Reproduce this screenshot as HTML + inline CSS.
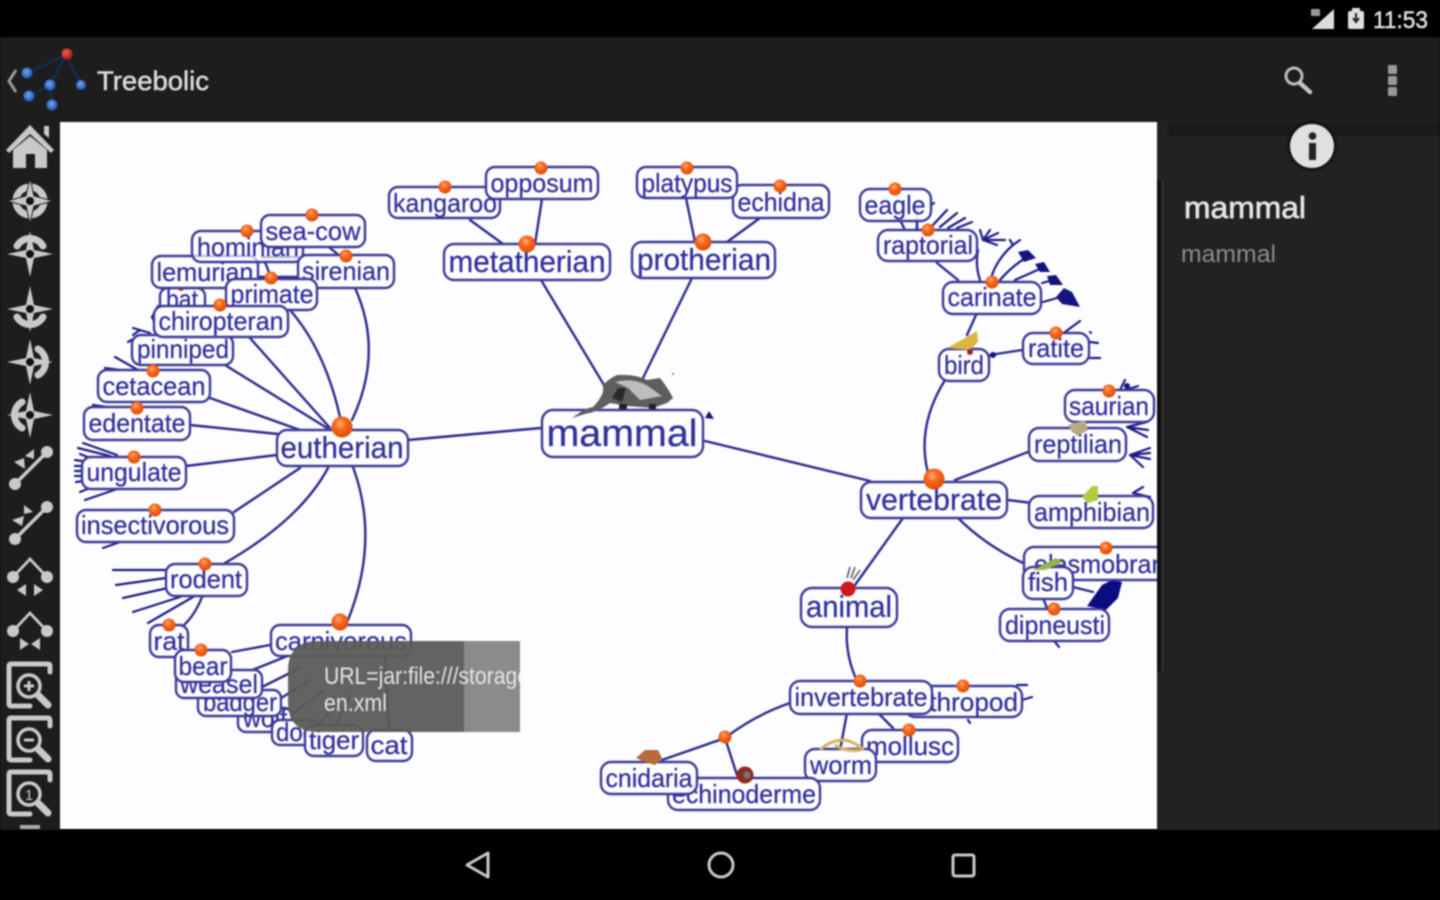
<!DOCTYPE html>
<html><head><meta charset="utf-8"><style>
html,body{margin:0;padding:0;background:#000;width:1440px;height:900px;overflow:hidden}
svg{display:block;filter:blur(.9px)}
text{font-family:"Liberation Sans",sans-serif}
.l rect{fill:#fdfcff;stroke:#3c3c98;stroke-width:2.4}
.l text{fill:#30309a;font-size:26px;text-anchor:middle;stroke:#30309a;stroke-width:.25}
.e{fill:none;stroke:#2b2b8e;stroke-width:2.4;stroke-linecap:round}
.f{fill:none;stroke:#1c1c88;stroke-width:2.2;stroke-linecap:round}
.i{fill:#c9c9c9}.r{fill:none;stroke:#c9c9c9;stroke-linecap:round}
</style></head><body>
<svg width="1440" height="900" viewBox="0 0 1440 900" xmlns="http://www.w3.org/2000/svg">
<defs>
<radialGradient id="b" cx=".42" cy=".35" r=".7"><stop offset="0" stop-color="#ffb27a"/><stop offset=".4" stop-color="#f9661a"/><stop offset="1" stop-color="#d84a08"/></radialGradient>
<radialGradient id="bl" cx=".45" cy=".4" r=".7"><stop offset="0" stop-color="#6fa8f0"/><stop offset="1" stop-color="#1540a0"/></radialGradient>
<radialGradient id="rd" cx=".4" cy=".35" r=".7"><stop offset="0" stop-color="#f06050"/><stop offset="1" stop-color="#b01010"/></radialGradient>
<clipPath id="cv"><rect x="60" y="122" width="1097" height="707"/></clipPath>
<clipPath id="tt"><rect x="288" y="641" width="232" height="91"/></clipPath>
</defs>
<rect width="1440" height="900" fill="#000"/>
<rect y="37" width="1440" height="85" fill="#1d1d1d"/>
<rect y="120" width="60" height="710" fill="#1d1d1d"/>
<rect x="1160" y="120" width="280" height="710" fill="#222"/>
<rect x="1168" y="122" width="272" height="14" fill="#1a1a1a"/>
<rect x="1157" y="122" width="4" height="708" fill="#222"/>
<rect x="1161" y="180" width="3" height="492" fill="#2d2d2d"/>
<rect x="1155" y="180" width="6" height="492" fill="#0e0e0e"/>
<rect x="60" y="122" width="1097" height="707" fill="#fdfcff"/>

<!-- status -->
<path d="M1312 29 L1334 9 V29Z" fill="#dcdcdc"/><path d="M1311 9h9v7h-9z" fill="#999"/>
<rect x="1348" y="11" width="16" height="18" rx="2" fill="#e0e0e0"/><rect x="1352" y="8" width="8" height="4" fill="#e0e0e0"/><path d="M1356 13v8M1353 18l3 4 3-4" stroke="#222" stroke-width="2" fill="none"/>
<text x="1373" y="28" font-size="24" fill="#e0e0e0" stroke="#e0e0e0" stroke-width=".5" textLength="55" lengthAdjust="spacingAndGlyphs">11:53</text>

<!-- action bar -->
<path d="M16 70 L9 81 L16 92" fill="none" stroke="#9a9a9a" stroke-width="3"/>
<path d="M27 73 L66 55 L81 85 M66 55 L50 85 L29 97 M50 85 L52 105" fill="none" stroke="#10305e" stroke-width="2"/>
<circle cx="67" cy="54" r="5.5" fill="url(#rd)"/><circle cx="27" cy="73" r="5.5" fill="url(#bl)"/><circle cx="50" cy="85" r="5.5" fill="url(#bl)"/><circle cx="81" cy="85" r="5" fill="url(#bl)"/><circle cx="29" cy="96" r="5.5" fill="url(#bl)"/><circle cx="52" cy="105" r="5.5" fill="url(#bl)"/>
<text x="97" y="90" font-size="27" fill="#dcdcdc" stroke="#dcdcdc" stroke-width=".5" textLength="112" lengthAdjust="spacingAndGlyphs">Treebolic</text>
<circle cx="1294" cy="76" r="8" fill="none" stroke="#bdbdbd" stroke-width="3"/><path d="M1300 83 L1310 92" stroke="#c4c4c4" stroke-width="4.5" stroke-linecap="round"/>
<rect x="1388" y="65" width="9" height="9" rx="1.5" fill="#999"/><rect x="1388" y="76" width="9" height="9" rx="1.5" fill="#999"/><rect x="1388" y="87" width="9" height="9" rx="1.5" fill="#999"/>

<!-- rail icons -->
<path class="i" d="M30 125 L54 150 L51 153 L30 134 L9 153 L6 150Z M44 126h5v12l-5-4Z"/>
<path class="i" d="M13 150 L30 136 L47 150 V168 H35 V154 H26 V168 H13Z"/>
<g><circle cx="30" cy="201" r="14" class="r" stroke-width="7"/><path class="i" d="M30 178 L34 196 L53 201 L34 206 L30 224 L26 206 L7 201 L26 196Z" stroke="#1d1d1d" stroke-width="1"/><circle cx="30" cy="201" r="4" fill="#111"/></g>
<g><path d="M17 246 A15 15 0 0 1 43 246" class="r" stroke-width="7"/><path class="i" d="M30 231 L34 250 L53 254 L34 258 L30 277 L26 258 L7 254 L26 250Z"/><circle cx="30" cy="254" r="4" fill="#111"/></g>
<g><path d="M17 317 A15 15 0 0 0 43 317" class="r" stroke-width="7"/><path class="i" d="M30 286 L34 305 L53 309 L34 313 L30 332 L26 313 L7 309 L26 305Z"/><circle cx="30" cy="309" r="4" fill="#111"/></g>
<g><path d="M38 349 A15 15 0 0 1 38 375" class="r" stroke-width="7"/><path class="i" d="M30 339 L34 358 L53 362 L34 366 L30 385 L26 366 L7 362 L26 358Z"/><circle cx="30" cy="362" r="4" fill="#111"/></g>
<g><path d="M22 402 A15 15 0 0 0 22 428" class="r" stroke-width="7"/><path class="i" d="M30 392 L34 411 L53 415 L34 419 L30 438 L26 419 L7 415 L26 411Z"/><circle cx="30" cy="415" r="4" fill="#111"/></g>
<g><path d="M15 484 L47 452" class="r" stroke-width="3.5"/><circle cx="15" cy="484" r="6" class="i"/><circle cx="47" cy="452" r="6" class="i"/><path class="i" d="M14 462 L24 458 L25 469Z M25 456 L34 449 L34 459Z"/></g>
<g><path d="M15 539 L47 507" class="r" stroke-width="3.5"/><circle cx="15" cy="539" r="6" class="i"/><circle cx="47" cy="507" r="6" class="i"/><path class="i" d="M12 520 L24 516 L22 526Z M33 512 L24 505 L24 514Z"/></g>
<g><path d="M14 576 L30 559 L46 576" class="r" stroke-width="2.8"/><circle cx="13" cy="577" r="6" class="i"/><circle cx="47" cy="577" r="6" class="i"/><path class="i" d="M17 590 L26 584 V596Z M43 590 L34 584 V596Z"/></g>
<g><path d="M14 630 L30 613 L46 630" class="r" stroke-width="2.8"/><circle cx="13" cy="631" r="6" class="i"/><circle cx="47" cy="631" r="6" class="i"/><path class="i" d="M20 638 L29 644 L20 650Z M40 638 L31 644 L40 650Z"/></g>
<g><path d="M50 672 V666 Q50 664 48 664 H11 Q9 664 9 666 V704 Q9 706 11 706 H30" class="r" stroke-width="5"/><circle cx="29" cy="686" r="11" fill="none" stroke="#c9c9c9" stroke-width="3.5"/><path d="M38 695 L48 705" class="r" stroke-width="7"/><path d="M24 686h10M29 681v10" stroke="#c9c9c9" stroke-width="3"/></g>
<g><path d="M50 726 V720 Q50 718 48 718 H11 Q9 718 9 720 V758 Q9 760 11 760 H30" class="r" stroke-width="5"/><circle cx="29" cy="740" r="11" fill="none" stroke="#c9c9c9" stroke-width="3.5"/><path d="M38 749 L48 759" class="r" stroke-width="7"/><path d="M24 740h10" stroke="#c9c9c9" stroke-width="3"/></g>
<g><path d="M50 780 V774 Q50 772 48 772 H11 Q9 772 9 774 V812 Q9 814 11 814 H30" class="r" stroke-width="5"/><circle cx="29" cy="794" r="11" fill="none" stroke="#c9c9c9" stroke-width="3.5"/><path d="M38 803 L48 813" class="r" stroke-width="7"/><text x="29" y="800" font-size="15" fill="#c9c9c9" text-anchor="middle">1</text></g>
<rect x="20" y="825" width="20" height="4" fill="#aaa"/>

<!-- canvas -->
<g clip-path="url(#cv)">
<!-- edges -->
<path class="e" d="M408 440 L541 428 M705 441 L870 481 M604 385 L541 280 M642 380 L692 278
M535 244 L542 199 M470 220 L503 244 M695 242 L686 198 M727 242 L760 218
M355 288 Q384 352 352 420 M290 310 Q325 350 340 417 M250 338 L330 428 M225 365 L327 428 M210 398 L300 430 M190 425 L278 434 M186 466 L277 455 M234 512 L300 468
M225 563 Q300 520 328 468 M348 620 Q380 540 353 467
M330 248 L340 256 M262 257 L298 257 M258 277 L298 277 M265 262 L272 280
M202 597 Q195 615 183 626
M270 645 L232 652 M290 655 L240 675 M300 668 L262 687 M310 680 L278 700 M325 690 L290 715 M340 700 L318 725 M350 695 L335 728 M385 655 L389 730
M945 380 Q914 430 930 480 M955 480 L1028 452 M1008 500 L1032 503 M958 518 Q985 545 1023 563 M903 518 L855 585
M847 627 Q845 655 857 681 M790 703 Q755 715 725 738 L662 760 M725 738 L737 775 M847 713 L840 750 M878 713 L893 728
M990 355 L1022 350 M976 315 L967 335 M937 263 L958 280 M900 220 L905 230 M917 207 V230 M978 250 Q975 265 980 280 M1073 587 L1093 592 M1043 598 L1047 608"/>
<!-- fans -->
<path class="f" d="M166 570 L113 570 M166 578 L116 585 M168 588 L123 598 M180 597 L133 612 M193 597 L148 623
M152 317 L158 306 M152 317 L156 325 M133 328 L150 333 M128 342 L135 338 M133 335 L140 330 M115 357 L138 370 M105 368 L120 370 M93 405 L107 407
M83 443 L117 455 M78 448 L110 456 M80 454 L90 458 M75 460 L82 461 M75 466 L82 466 M75 471 L82 471 M75 476 L82 476 M76 482 L84 481 M80 492 L90 488 M85 500 L123 487
M103 548 L120 542 M933 225 L947 210 M940 227 L957 213 M948 228 L965 218 M957 228 L972 222
M983 240 L980 230 M983 240 L990 230 M983 240 L998 233 M983 240 L1005 240 M983 240 L997 245
M992 275 Q998 258 1013 245 M1013 245 L1020 240 M1013 245 L1010 240 M1000 280 Q1012 266 1027 257 M1015 280 L1042 268 M1042 283 L1053 280 M1043 302 L1057 298
M1065 332 L1080 321 M1090 332 L1091 333 M1090 342 L1098 343 M1090 358 L1100 358 M931 205 L934 203
M1120 390 L1125 380 M1125 390 L1138 386 M1127 427 L1147 422 M1127 427 L1148 430 M1127 427 L1147 437 M1130 455 L1150 448 M1130 455 L1150 453 M1130 455 L1150 459 M1130 455 L1143 467
M1133 493 L1143 487 M1133 493 L1150 497 M1055 642 L1059 647 M1022 700 L1032 697 M1017 685 L1027 685 M968 720 L970 723"/>
<path d="M1018 252 L1028 250 L1036 258 L1024 262Z M1035 264 L1044 262 L1050 272 L1040 272Z M1047 276 L1056 275 L1063 285 L1050 285Z M1056 297 L1064 288 L1072 292 L1080 307 L1062 304Z" fill="#14147e"/>
<path d="M1087 606 L1102 585 L1112 580 L1122 582 L1118 598 L1106 610Z" fill="#0c0c80"/>
<circle cx="993" cy="355" r="3" fill="#14147e"/><circle cx="1127" cy="386" r="3" fill="#14147e"/><circle cx="1078" cy="571" r="3" fill="#14147e"/><path d="M705 418 L709 411 L714 419Z" fill="#14147e"/>

<!-- labels -->
<g class="l"><rect x="160" y="288" width="45" height="26" rx="8"/><text x="182" y="308" textLength="32" lengthAdjust="spacingAndGlyphs">bat</text></g>
<circle cx="181" cy="288" r="3" fill="#d03010"/>
<g class="l"><rect x="152" y="256" width="106" height="32" rx="9"/><text x="205" y="281" textLength="97" lengthAdjust="spacingAndGlyphs">lemurian</text></g>
<g class="l"><rect x="192" y="231" width="111" height="31" rx="9" style="fill-opacity:.7"/><text x="248" y="256" textLength="102" lengthAdjust="spacingAndGlyphs">hominian</text></g>
<g class="l"><rect x="261" y="215" width="104" height="32" rx="9"/><text x="313" y="240" textLength="95" lengthAdjust="spacingAndGlyphs">sea-cow</text></g>
<g class="l"><rect x="298" y="255" width="96" height="33" rx="9"/><text x="346" y="280" textLength="88" lengthAdjust="spacingAndGlyphs">sirenian</text></g>
<g class="l"><rect x="226" y="279" width="91" height="31" rx="9"/><text x="272" y="303" textLength="83" lengthAdjust="spacingAndGlyphs">primate</text></g>
<g class="l"><rect x="132" y="335" width="101" height="30" rx="9"/><text x="183" y="358" textLength="92" lengthAdjust="spacingAndGlyphs">pinniped</text></g>
<circle cx="183" cy="336" r="2.5" fill="#d03010"/>
<g class="l"><rect x="154" y="306" width="134" height="31" rx="9"/><text x="221" y="330" textLength="125" lengthAdjust="spacingAndGlyphs">chiropteran</text></g>
<g class="l"><rect x="98" y="370" width="112" height="32" rx="9"/><text x="154" y="395" textLength="103" lengthAdjust="spacingAndGlyphs">cetacean</text></g>
<g class="l"><rect x="84" y="407" width="106" height="33" rx="9"/><text x="137" y="432" textLength="97" lengthAdjust="spacingAndGlyphs">edentate</text></g>
<g class="l"><rect x="82" y="457" width="104" height="32" rx="9"/><text x="134" y="481" textLength="95" lengthAdjust="spacingAndGlyphs">ungulate</text></g>
<g class="l"><rect x="77" y="510" width="157" height="32" rx="9"/><text x="155" y="534" textLength="148" lengthAdjust="spacingAndGlyphs">insectivorous</text></g>
<g class="l"><rect x="166" y="564" width="81" height="32" rx="9"/><text x="206" y="588" textLength="72" lengthAdjust="spacingAndGlyphs">rodent</text></g>
<g class="l"><rect x="150" y="625" width="38" height="32" rx="9"/><text x="169" y="650" textLength="31" lengthAdjust="spacingAndGlyphs">rat</text></g>
<g class="l"><rect x="238" y="708" width="54" height="24" rx="8"/><text x="265" y="727" textLength="44" lengthAdjust="spacingAndGlyphs">wolf</text></g>
<g class="l"><rect x="198" y="690" width="83" height="26" rx="8"/><text x="240" y="711" textLength="74" lengthAdjust="spacingAndGlyphs">badger</text></g>
<g class="l"><rect x="176" y="670" width="86" height="28" rx="8"/><text x="219" y="693" textLength="78" lengthAdjust="spacingAndGlyphs">weasel</text></g>
<g class="l"><rect x="175" y="650" width="56" height="32" rx="9"/><text x="203" y="675" textLength="49" lengthAdjust="spacingAndGlyphs">bear</text></g>
<g class="l"><rect x="272" y="720" width="48" height="25" rx="8"/><text x="296" y="741" textLength="40" lengthAdjust="spacingAndGlyphs">dog</text></g>
<g class="l"><rect x="305" y="725" width="58" height="31" rx="9"/><text x="334" y="749" textLength="50" lengthAdjust="spacingAndGlyphs">tiger</text></g>
<g class="l"><rect x="367" y="730" width="45" height="31" rx="9"/><text x="389" y="754" textLength="37" lengthAdjust="spacingAndGlyphs">cat</text></g>
<g class="l"><rect x="271" y="625" width="140" height="31" rx="9"/><text x="341" y="650" textLength="132" lengthAdjust="spacingAndGlyphs">carnivorous</text></g>
<g class="l"><rect x="389" y="187" width="111" height="31" rx="9"/><text x="445" y="212" textLength="104" lengthAdjust="spacingAndGlyphs">kangaroo</text></g>
<g class="l"><rect x="486" y="167" width="112" height="32" rx="9"/><text x="542" y="192" textLength="103" lengthAdjust="spacingAndGlyphs">opposum</text></g>
<g class="l"><rect x="733" y="185" width="96" height="33" rx="9"/><text x="781" y="211" textLength="87" lengthAdjust="spacingAndGlyphs">echidna</text></g>
<g class="l"><rect x="637" y="167" width="100" height="31" rx="9"/><text x="687" y="192" textLength="91" lengthAdjust="spacingAndGlyphs">platypus</text></g>
<g class="l"><rect x="444" y="244" width="166" height="36" rx="10"/><text x="527" y="272" style="font-size:31px" textLength="157" lengthAdjust="spacingAndGlyphs">metatherian</text></g>
<g class="l"><rect x="632" y="242" width="143" height="36" rx="10"/><text x="704" y="270" style="font-size:31px" textLength="134" lengthAdjust="spacingAndGlyphs">protherian</text></g>
<g class="l"><rect x="277" y="430" width="131" height="36" rx="10"/><text x="342" y="458" style="font-size:31px" textLength="123" lengthAdjust="spacingAndGlyphs">eutherian</text></g>
<g class="l"><rect x="542" y="410" width="161" height="47" rx="11"/><text x="622" y="446" style="font-size:38px" textLength="151" lengthAdjust="spacingAndGlyphs">mammal</text></g>
<g class="l"><rect x="878" y="230" width="99" height="31" rx="10"/><text x="928" y="254" textLength="90" lengthAdjust="spacingAndGlyphs">raptorial</text></g>
<path class="e" d="M917 207 V230"/>
<g class="l"><rect x="860" y="189" width="71" height="32" rx="10" style="fill-opacity:.9"/><text x="895" y="214" textLength="61" lengthAdjust="spacingAndGlyphs">eagle</text></g>
<g class="l"><rect x="943" y="282" width="98" height="32" rx="10"/><text x="992" y="306" textLength="89" lengthAdjust="spacingAndGlyphs">carinate</text></g>
<g class="l"><rect x="1023" y="333" width="66" height="31" rx="10"/><text x="1056" y="357" textLength="56" lengthAdjust="spacingAndGlyphs">ratite</text></g>
<g class="l"><rect x="939" y="349" width="50" height="32" rx="10"/><text x="964" y="374" textLength="40" lengthAdjust="spacingAndGlyphs">bird</text></g>
<g class="l"><rect x="1065" y="390" width="89" height="32" rx="10"/><text x="1109" y="415" textLength="80" lengthAdjust="spacingAndGlyphs">saurian</text></g>
<g class="l"><rect x="1029" y="428" width="97" height="33" rx="10"/><text x="1078" y="453" textLength="88" lengthAdjust="spacingAndGlyphs">reptilian</text></g>
<g class="l"><rect x="1029" y="496" width="124" height="32" rx="10"/><text x="1092" y="521" textLength="116" lengthAdjust="spacingAndGlyphs">amphibian</text></g>
<g class="l"><rect x="861" y="482" width="146" height="36" rx="10"/><text x="934" y="510" style="font-size:31px" textLength="136" lengthAdjust="spacingAndGlyphs">vertebrate</text></g>
<g class="l"><rect x="1024" y="547" width="160" height="33" rx="10"/><text x="1113" y="573" textLength="158" lengthAdjust="spacingAndGlyphs">elasmobranch</text></g>
<g class="l"><rect x="1000" y="609" width="109" height="32" rx="10"/><text x="1055" y="634" textLength="100" lengthAdjust="spacingAndGlyphs">dipneusti</text></g>
<g class="l"><rect x="1023" y="567" width="50" height="32" rx="10"/><text x="1048" y="591" textLength="40" lengthAdjust="spacingAndGlyphs">fish</text></g>
<g class="l"><rect x="801" y="588" width="96" height="39" rx="11"/><text x="849" y="617" style="font-size:31px" textLength="86" lengthAdjust="spacingAndGlyphs">animal</text></g>
<g class="l"><rect x="905" y="686" width="117" height="31" rx="10"/><text x="962" y="711" textLength="112" lengthAdjust="spacingAndGlyphs">arthropod</text></g>
<g class="l"><rect x="790" y="681" width="142" height="33" rx="10"/><text x="861" y="706" textLength="133" lengthAdjust="spacingAndGlyphs">invertebrate</text></g>
<g class="l"><rect x="862" y="730" width="96" height="32" rx="10"/><text x="910" y="755" textLength="88" lengthAdjust="spacingAndGlyphs">mollusc</text></g>
<g class="l"><rect x="805" y="749" width="71" height="32" rx="10"/><text x="841" y="774" textLength="62" lengthAdjust="spacingAndGlyphs">worm</text></g>
<g class="l"><rect x="668" y="778" width="152" height="32" rx="10"/><text x="744" y="803" textLength="144" lengthAdjust="spacingAndGlyphs">echinoderme</text></g>
<g class="l"><rect x="601" y="762" width="96" height="32" rx="10"/><text x="649" y="787" textLength="87" lengthAdjust="spacingAndGlyphs">cnidaria</text></g>

<!-- balls -->
<g fill="url(#b)">
<circle cx="342" cy="427" r="10.5"/><circle cx="527" cy="244" r="8.5"/><circle cx="703" cy="242" r="8.5"/><circle cx="934" cy="479" r="10.5"/><circle cx="340" cy="622" r="8.5"/>
<circle cx="541" cy="168" r="6.5"/><circle cx="445" cy="187" r="6.5"/><circle cx="687" cy="168" r="6.5"/><circle cx="780" cy="186" r="6.5"/><circle cx="312" cy="215" r="6.5"/><circle cx="247" cy="231" r="6.5"/><circle cx="346" cy="256" r="6.5"/><circle cx="271" cy="278" r="6.5"/><circle cx="220" cy="305" r="6.5"/><circle cx="153" cy="371" r="6.5"/><circle cx="137" cy="408" r="6.5"/><circle cx="134" cy="457" r="6.5"/><circle cx="155" cy="510" r="6.5"/><circle cx="205" cy="564" r="6.5"/><circle cx="169" cy="625" r="6.5"/><circle cx="201" cy="650" r="6.5"/>
<circle cx="895" cy="189" r="6.5"/><circle cx="928" cy="230" r="6.5"/><circle cx="992" cy="282" r="6.5"/><circle cx="1056" cy="333" r="6.5"/><circle cx="1109" cy="391" r="6.5"/><circle cx="1106" cy="548" r="6.5"/><circle cx="1054" cy="609" r="6.5"/><circle cx="860" cy="681" r="6.5"/><circle cx="963" cy="686" r="6.5"/><circle cx="909" cy="730" r="6.5"/><circle cx="725" cy="737" r="6.5"/>
</g>
<circle cx="848" cy="589" r="7.5" fill="#d01818"/>
<!-- pictures -->
<path d="M572 418 Q585 408 593 407 Q600 400 603 392 L603 385 Q610 378 617 375 Q635 374 647 380 L660 378 Q668 388 673 398 L667 403 L653 408 L627 406 L610 403 Q598 412 585 414Z" fill="#5e5e5e"/>
<path d="M615 382 Q632 377 648 386 L662 396 L640 400 L628 388Z" fill="#bdbdbd"/>
<path d="M618 388 L626 388 L622 402 L612 398Z" fill="#2a2a2a"/>
<rect x="619" y="404" width="8" height="5" fill="#222"/><rect x="649" y="404" width="7" height="5" fill="#222"/>
<circle cx="673" cy="374" r="1" fill="#777"/>
<path d="M947 348 L965 338 L977 331 L978 342 L970 350Z" fill="#d8b840"/>
<circle cx="970" cy="352" r="3" fill="#a02020"/>
<path d="M1068 425 L1085 420 L1088 430 L1078 436 L1072 432Z" fill="#b8a888"/>
<path d="M1082 497 L1092 486 L1098 486 L1098 500 L1088 503Z" fill="#b0cc40"/>
<path d="M1033 570 L1056 558 L1063 562 L1045 570Z" fill="#90b848"/>
<path d="M820 750 Q830 740 845 740 Q855 742 864 750 M835 745 Q845 752 860 750" fill="none" stroke="#d8b060" stroke-width="3"/>
<path d="M636 758 L645 750 L658 750 L662 758 L655 765 L645 762Z" fill="#b86a3a"/>
<circle cx="745" cy="775" r="8.5" fill="#8e2c20"/><circle cx="747" cy="775" r="3.5" fill="#777"/>
<path d="M850 567 L847 578 M855 567 L851 578 M860 570 L853 580" fill="none" stroke="#555" stroke-width="1.5"/>
</g>

<!-- tooltip -->
<path d="M464 641 H318 Q288 641 288 671 V702 Q288 732 318 732 H464Z" fill="#5b5b59" opacity=".95"/>
<rect x="464" y="641" width="56" height="91" fill="#858583" opacity=".95"/>
<g clip-path="url(#tt)" font-size="24" fill="#e4e4e4">
<text x="324" y="684" textLength="205" lengthAdjust="spacingAndGlyphs">URL=jar:file:///storage</text>
<text x="324" y="711" textLength="63" lengthAdjust="spacingAndGlyphs">en.xml</text>
</g>

<!-- right panel -->
<circle cx="1312" cy="146" r="25" fill="#141414"/>
<circle cx="1312" cy="146" r="22" fill="#e0e0e0"/>
<rect x="1309" y="143" width="7" height="17" fill="#222"/><circle cx="1312.5" cy="136" r="3.8" fill="#222"/>
<text x="1184" y="218" font-size="31" fill="#e6e6e6" stroke="#e6e6e6" stroke-width=".7" textLength="122" lengthAdjust="spacingAndGlyphs">mammal</text>
<text x="1181" y="262" font-size="24" fill="#8c8c8c" textLength="95" lengthAdjust="spacingAndGlyphs">mammal</text>

<!-- nav -->
<path d="M488 853 V877 L467 865Z" fill="none" stroke="#c8c8c8" stroke-width="3" stroke-linejoin="round"/>
<circle cx="721" cy="865" r="12" fill="none" stroke="#c8c8c8" stroke-width="3"/>
<rect x="953" y="855" width="21" height="21" rx="2" fill="none" stroke="#c8c8c8" stroke-width="3"/>
</svg>
</body></html>
